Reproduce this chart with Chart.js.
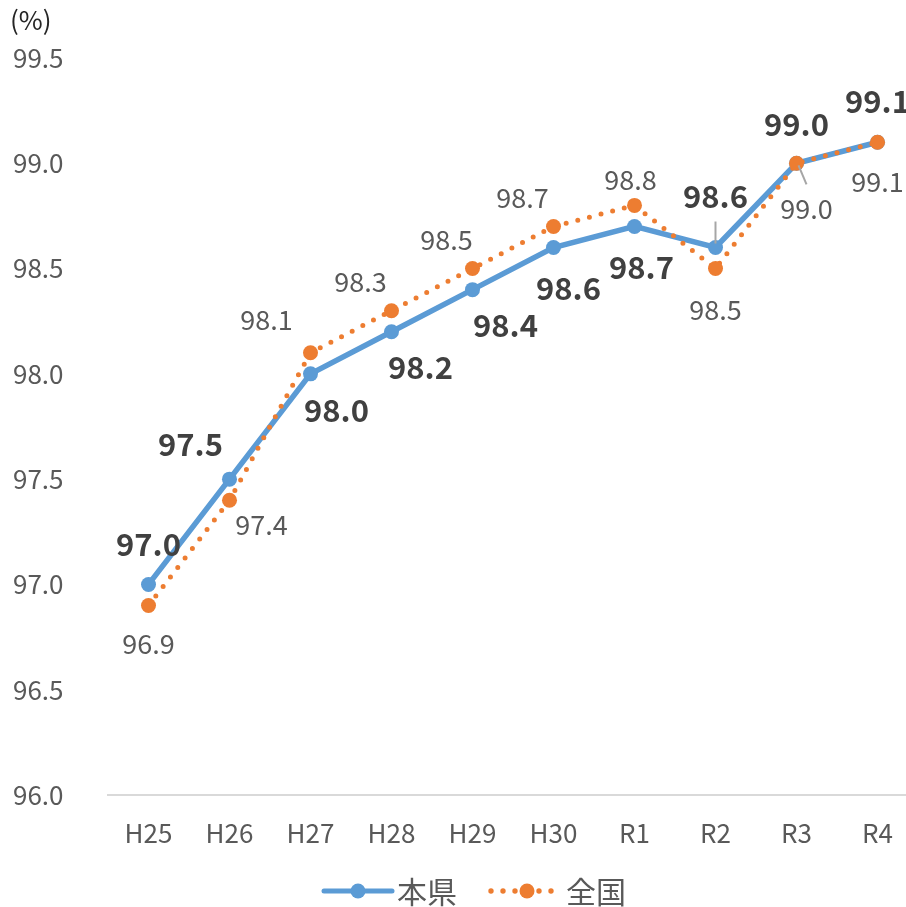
<!DOCTYPE html>
<html>
<head>
<meta charset="utf-8">
<script src="https://cdn.jsdelivr.net/npm/chart.js@4"></script>
<style>
  html, body { margin: 0; padding: 0; background: #fff; overflow: hidden; }
  #wrap { width: 906px; height: 907px; overflow: hidden; position: relative; }
  #myChart { position: absolute; left: 0; top: 0; }
</style>
</head>
<body>
<div id="wrap"><canvas id="myChart" width="930" height="907"></canvas></div>
<script>
// chart values
const years = ["H25", "H26", "H27", "H28", "H29", "H30", "R1", "R2", "R3", "R4"];
const prefRate = [97.0, 97.5, 98.0, 98.2, 98.4, 98.6, 98.7, 98.6, 99.0, 99.1]; //本県
const nationRate = [96.9, 97.4, 98.1, 98.3, 98.5, 98.7, 98.8, 98.5, 99.0, 99.1]; //全国
const yMin = 96.0;
const yMax = 99.5;
const yStep = 0.5;

const FONT = "'Noto Sans CJK JP', 'Noto Sans', sans-serif";
const BLUE = "#5B9BD5";
const ORANGE = "#ED7D31";

// label placement (offset from point, px) like the excel layout
const prefLabelOffset = [[0, -40], [-39, -35], [26, 36], [29, 35], [33, 36], [15, 41], [7, 41], [0, -51], [0, -39], [0, -41]];
const nationLabelOffset = [[0, 38], [32, 25], [-44, -33], [-31, -29], [-26, -29], [-31, -29], [-4, -26], [0, 41], [10, 45], [0, 40]];
// leader lines: [dataset label, index, dx1, dy1, dx2, dy2]
const leaders = [["本県", 7, 0, -26, 0, -4], ["全国", 8, 2, 2, 10, 21]];

const labelPlugin = {
  id: "pointLabels",
  afterDatasetsDraw(chart) {
    const ctx = chart.ctx;
    ctx.save();
    chart.data.datasets.forEach((ds, di) => {
      const meta = chart.getDatasetMeta(di);
      const isPref = ds.label === "本県";
      const offs = isPref ? prefLabelOffset : nationLabelOffset;
      leaders.filter((l) => l[0] === ds.label).forEach((l) => {
        const p = meta.data[l[1]];
        ctx.strokeStyle = "#A6A6A6";
        ctx.lineWidth = 2;
        ctx.beginPath();
        ctx.moveTo(p.x + l[2], p.y + l[3]);
        ctx.lineTo(p.x + l[4], p.y + l[5]);
        ctx.stroke();
      });
      ctx.font = isPref ? "bold 31px " + FONT : "27px " + FONT;
      ctx.fillStyle = isPref ? "#404040" : "#595959";
      ctx.textAlign = "center";
      ctx.textBaseline = "middle";
      meta.data.forEach((p, i) => {
        ctx.fillText(ds.data[i].toFixed(1), p.x + offs[i][0], p.y + offs[i][1]);
      });
    });
    ctx.restore();
  },
  afterDraw(chart) {
    const ctx = chart.ctx;
    ctx.save();
    // unit label
    ctx.font = "26px " + FONT;
    ctx.fillStyle = "#262626";
    ctx.textBaseline = "middle";
    ctx.textAlign = "left";
    ctx.fillText("(%)", 10, 20);

    // legend
    const ly = 891;
    ctx.lineCap = "round";
    ctx.strokeStyle = BLUE;
    ctx.lineWidth = 5;
    ctx.beginPath();
    ctx.moveTo(324, ly);
    ctx.lineTo(392, ly);
    ctx.stroke();
    ctx.fillStyle = BLUE;
    ctx.beginPath();
    ctx.arc(358, ly, 7.5, 0, Math.PI * 2);
    ctx.fill();

    ctx.fillStyle = ORANGE;
    [491, 503, 515, 539, 551].forEach((x) => {
      ctx.beginPath();
      ctx.arc(x, ly, 2.7, 0, Math.PI * 2);
      ctx.fill();
    });
    ctx.beginPath();
    ctx.arc(527, ly, 7.5, 0, Math.PI * 2);
    ctx.fill();

    ctx.font = "30px " + FONT;
    ctx.fillStyle = "#595959";
    ctx.fillText("本県", 397, ly + 1);
    ctx.fillText("全国", 566, ly + 1);
    ctx.restore();
  },
};

const ctx = document.getElementById("myChart");
const myChart = new Chart(ctx, {
  type: "line",
  data: {
    labels: years,
    datasets: [
      {
        label: "全国",
        data: nationRate,
        borderColor: ORANGE,
        backgroundColor: ORANGE,
        borderWidth: 5,
        borderDash: [0, 12],
        borderCapStyle: "round",
        pointRadius: 7.5,
        pointBorderWidth: 0,
        pointBackgroundColor: ORANGE,
        tension: 0,
      },
      {
        label: "本県",
        data: prefRate,
        borderColor: BLUE,
        backgroundColor: BLUE,
        borderWidth: 5.5,
        pointRadius: 7.5,
        pointBorderWidth: 0,
        pointBackgroundColor: BLUE,
        tension: 0,
      },
    ],
  },
  options: {
    responsive: false,
    animation: false,
    layout: {
      padding: { left: 13, top: 58, right: 12, bottom: 0 },
    },
    scales: {
      x: {
        offset: true,
        grid: { display: false, drawTicks: false },
        border: { display: true, color: "#D9D9D9", width: 2 },
        ticks: {
          color: "#595959",
          padding: 23,
          font: { family: FONT, size: 26 },
          maxRotation: 0,
        },
        afterFit(scale) {
          scale.height = 112;
        },
      },
      y: {
        min: yMin,
        max: yMax,
        grid: { display: false, drawTicks: false },
        border: { display: false },
        ticks: {
          stepSize: yStep,
          color: "#595959",
          crossAlign: "far",
          font: { family: FONT, size: 26 },
          callback: (v) => v.toFixed(1),
        },
        afterFit(scale) {
          scale.width = 95;
        },
      },
    },
    plugins: {
      legend: { display: false },
      tooltip: { enabled: false },
    },
  },
  plugins: [labelPlugin],
});
</script>
</body>
</html>
